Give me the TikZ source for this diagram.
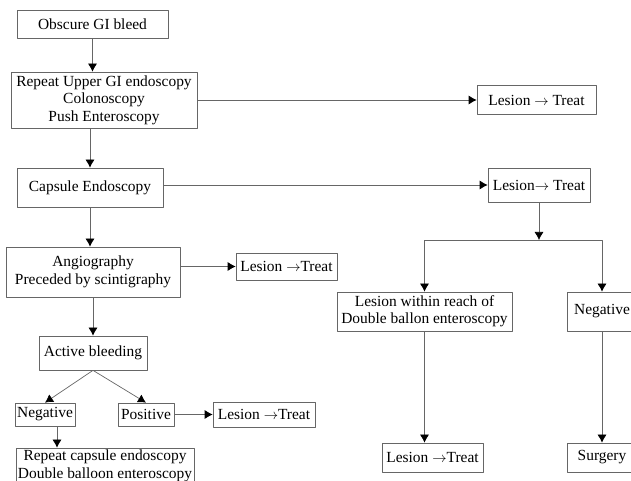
\documentclass[tikz,border=0pt]{standalone}
\usepackage{fontspec}
\setmainfont{Liberation Serif}
\usetikzlibrary{arrows.meta}
\newcommand{\toarrow}{$\rightarrow$}
\tikzset{
  stepbox/.style={draw=black!60,line width=0.7bp,inner sep=2bp,align=center,
    font=\fontsize{15.5}{17.5}\selectfont},
  link/.style={draw=black!60,line width=0.7bp}
}
\begin{document}
\begin{tikzpicture}[>={Latex[black,length=8bp,width=9bp]},line join=bevel,]
\clip (0bp,0bp) rectangle (631bp,481bp);
\useasboundingbox (0bp,0bp) rectangle (631bp,481bp);
%%
\node (bleed) at (92.5bp,457bp) [stepbox,minimum width=151bp,minimum height=28bp] {Obscure GI bleed};
  \node (upper) at (104bp,381bp) [stepbox,minimum width=186bp,minimum height=56bp] {Repeat Upper GI endoscopy\\Colonoscopy\\Push Enteroscopy};
  \node (treatA) at (536.5bp,381bp) [stepbox,minimum width=119bp,minimum height=29bp] {Lesion \toarrow{} Treat};
  \node (capsule) at (90bp,293.5bp) [stepbox,minimum width=146bp,minimum height=39bp] {Capsule Endoscopy};
  \node (treatB) at (539bp,296bp) [stepbox,minimum width=102bp,minimum height=34bp] {Lesion\toarrow{} Treat};
  \coordinate (split) at (539bp,241bp);
  \node (reach) at (424.5bp,169.5bp) [stepbox,minimum width=175bp,minimum height=39bp] {Lesion within reach of\\Double ballon enteroscopy};
  \node (negR) at (602bp,169.5bp) [stepbox,minimum width=70bp,minimum height=39bp] {Negative};
  \node (treatD) at (432.5bp,23.5bp) [stepbox,minimum width=101bp,minimum height=29bp] {Lesion \toarrow{}Treat};
  \node (surgery) at (602bp,23.5bp) [stepbox,minimum width=70bp,minimum height=29bp] {Surgery};
  \node (angio) at (93bp,209bp) [stepbox,minimum width=174bp,minimum height=50bp] {Angiography\\Preceded by scintigraphy};
  \node (treatC) at (286.5bp,214.5bp) [stepbox,minimum width=101bp,minimum height=27bp] {Lesion \toarrow{}Treat};
  \node (active) at (93bp,128bp) [stepbox,minimum width=108bp,minimum height=34bp] {Active bleeding};
  \node (negL) at (45bp,66.5bp) [stepbox,minimum width=58bp,minimum height=23bp] {Negative};
  \node (posL) at (146bp,66.5bp) [stepbox,minimum width=56bp,minimum height=23bp] {Positive};
  \node (treatE) at (264bp,66.5bp) [stepbox,minimum width=102bp,minimum height=25bp] {Lesion \toarrow{}Treat};
  \node (repcap) at (105bp,15bp) [stepbox,minimum width=176bp,minimum height=36bp] {Repeat capsule endoscopy\\Double balloon enteroscopy};
%
  \draw [link,->] (bleed.south) -- (bleed.south |- upper.north);
  \draw [link,->] (upper.east |- treatA) -- (treatA);
  \draw [link,->] (capsule.north |- upper.south) -- (capsule.north);
  \draw [link,->] (capsule.east |- treatB) -- (treatB);
  \draw [link,->] (treatB.south) -- (split);
  \draw [link,->] (split) -| (reach.north);
  \draw [link,->] (split) -| (negR.north);
  \draw [link,->] (reach.south) -- (reach.south |- treatD.north);
  \draw [link,->] (negR.south) -- (surgery.north);
  \draw [link,->] (capsule.south) -- (capsule.south |- angio.north);
  \draw [link,->] (angio.east |- treatC) -- (treatC);
  \draw [link,->] (angio.south) -- (active.north);
  \draw [link,->] (active.south) -- (negL.north);
  \draw [link,->] (active.south) -- (posL.north);
  \draw [link,->] (posL) -- (treatE);
  \draw [link,->] ([xshift=12bp]negL.south) -- ([xshift=12bp]negL.south |- repcap.north);
%
\end{tikzpicture}
\end{document}
